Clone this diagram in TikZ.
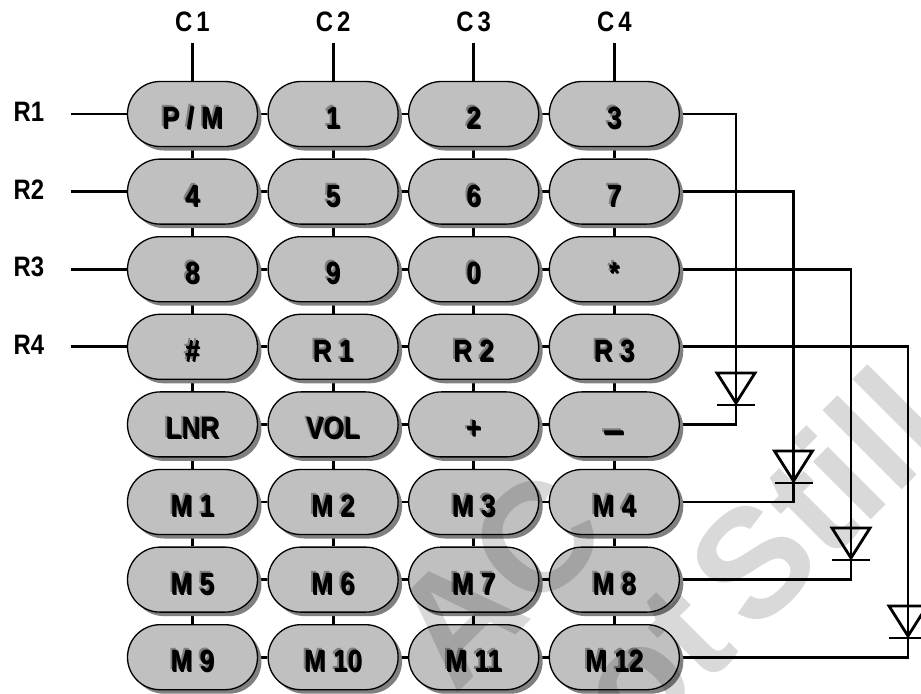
\documentclass[tikz,border=0pt]{standalone}
\usepackage{fontspec}
\setmainfont{Liberation Sans}
\usetikzlibrary{backgrounds,shadows,shapes.misc}
\definecolor{keyfill}{HTML}{C0C0C0}
\definecolor{keyshade}{HTML}{808080}
\definecolor{markgray}{HTML}{D9D9D9}
\newcommand{\narrowtxt}[1]{\scalebox{0.85}[1]{#1}}
\newcommand{\keylab}[1]{\rlap{\kern-1.1pt\raisebox{1.1pt}{\textcolor{keyshade}{\narrowtxt{#1}}}}\rlap{\kern0.5pt\raisebox{-0.5pt}{\narrowtxt{#1}}}\narrowtxt{#1}}
\tikzset{
    key/.style={rounded rectangle,draw,line width=0.75pt,fill=keyfill,inner sep=0pt,
        minimum width=130*0.02cm,minimum height=65*0.02cm,
        font=\fontsize{17.5}{18}\bfseries,text height=16.6pt,text depth=0pt,
        drop shadow={shadow xshift=0.08cm,shadow yshift=-0.08cm,fill=keyshade,opacity=1}},
    wire/.style={line width=1.6pt,line join=miter},
    tag/.style={font=\fontsize{16}{16}\bfseries,inner sep=0pt},
    stamp/.style={font=\fontsize{88}{88}\bfseries,text=markgray,rotate=45,inner sep=0pt},
    diode/.pic={
        \draw[wire] (-19,-30) -- (19,-30) -- (0,0) -- cycle;
        \draw[wire] (-19,2) -- (19,2);
    }
}
\begin{document}
\begin{tikzpicture}[x=0.02cm,y=-0.02cm]
    \useasboundingbox (0,0) rectangle (921,694);
    % keypad
    \foreach \lab [count=\i from 0] in {P / M,1,2,3,4,5,6,7,8,9,0,*,\#,R 1,R 2,R 3,LNR,VOL,+,\raisebox{-2.6pt}{\scalebox{1.45}[1.3]{–}},M 1,M 2,M 3,M 4,M 5,M 6,M 7,M 8,M 9,M 10,M 11,M 12} {
        \pgfmathtruncatemacro{\r}{int(\i/4)+1}
        \pgfmathtruncatemacro{\c}{mod(\i,4)+1}
        \node[key] (k\r\c) at ({192.5+140.6*(\c-1)},{114+77.6*(\r-1)}) {\keylab{\lab}};
    }
    % row and column lines
    \foreach \n [count=\c] in {1,2,3,4} {
        \node[tag] (c\n) at ({192.5+140.6*(\c-1)},22) {\narrowtxt{C\,\n}};
        \coordinate (ct\n) at ({192.5+140.6*(\c-1)},43);
        \node[tag] (r\n) at (29,{112+77.6*(\c-1)}) {\narrowtxt{R\n}};
        \coordinate (rl\n) at (71,{114+77.6*(\c-1)});
    }
    \begin{scope}[on background layer]
        \foreach \n in {1,2,3,4} {
            \draw[wire] (ct\n) -- (k1\n.north);
            \draw[wire] (rl\n) -- (k\n1.west);
        }
        \foreach \r in {1,...,8} \foreach \a/\b in {1/2,2/3,3/4} {
            \draw[wire] (k\r\a.east) -- (k\r\b.west);
        }
        \foreach \a/\b in {1/2,2/3,3/4,4/5,5/6,6/7,7/8} \foreach \c in {1,...,4} {
            \draw[wire] (k\a\c.south) -- (k\b\c.north);
        }
    \end{scope}
    % diodes
    \coordinate (d1) at (736,403);
    \coordinate (d2) at (793.5,481);
    \coordinate (d3) at (851,558);
    \coordinate (d4) at (908,636);
    \foreach \n/\m in {1/5,2/6,3/7,4/8} {
        \pic at (d\n) {diode};
        \begin{scope}[on background layer]
            \draw[wire] (k\n4.east) -| (d\n) |- (k\m4.east);
        \end{scope}
    }
    % watermark
    \begin{scope}[blend mode=multiply]
        \node[stamp] (w1) at (497,579) {AC};
        \node[stamp] (w2) at (757,556) {ot\hspace{-0.15em} Still};
    \end{scope}
\end{tikzpicture}
\end{document}
